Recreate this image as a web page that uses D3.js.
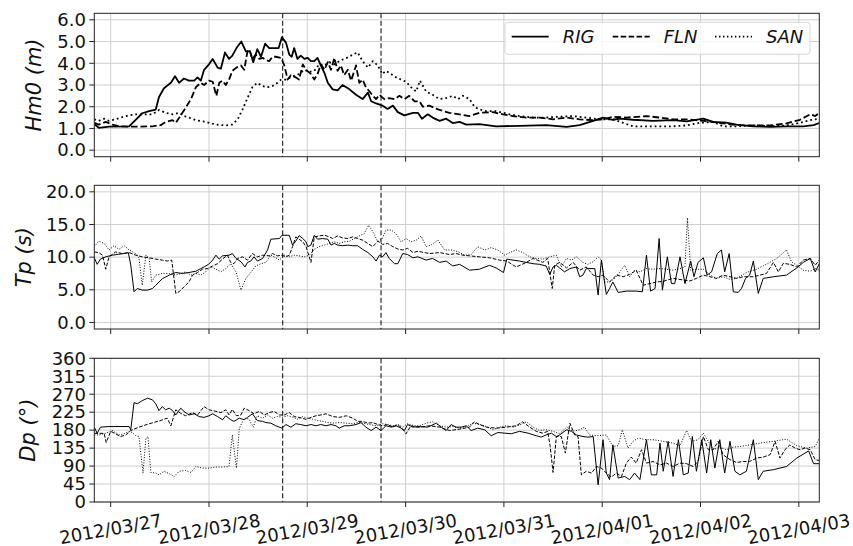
<!DOCTYPE html>
<html><head><meta charset="utf-8">
<script src="https://cdn.jsdelivr.net/npm/d3@7"></script>
<style>
body{margin:0;background:#fff}
svg{display:block}
text{font-family:"DejaVu Sans",sans-serif;fill:#111}
</style>
</head><body>
<svg id="chart" width="853" height="546"></svg>
<script>
// time axis: hours since 2012-03-26 20:00 UTC
const startUTC = Date.UTC(2012, 2, 26, 20, 0);
const endHours = 177;
const eventHours = [46, 70];
const stations = ["RIG", "FLN", "SAN"];
const hm0Ticks = [0, 1, 2, 3, 4, 5, 6];
const tpTicks = [0, 5, 10, 15, 20];
const dpTicks = [0, 45, 90, 135, 180, 225, 270, 315, 360];

const hm0RIG = [[0,1.2],[1.1,1.03],[3.6,1.08],[8.5,1.1],[10.1,1.4],[11.7,1.7],[13.4,1.8],[15,1.87],[15.8,2.45],[17,2.85],[18.7,3.1],[19.7,3.4],[20.7,3.1],[21.9,3.3],[23.1,3.2],[24.4,3.2],[25.2,3.35],[26,3.2],[26.8,3.7],[28,3.95],[28.9,4.2],[30.1,3.8],[30.9,3.75],[31.9,4.5],[32.9,4.2],[33.7,4.35],[34.7,4.7],[35.9,5.0],[37,4.55],[38,4.55],[38.8,4.05],[39.8,4.65],[40.7,4.3],[41.7,4.9],[42.7,4.7],[43.9,4.7],[45,4.7],[45.8,5.2],[46.8,4.95],[47.6,4.4],[48.2,4.3],[48.8,4.7],[49.6,4.2],[50.4,4.35],[51.3,4.2],[52.1,4.25],[52.9,4.1],[53.7,4.1],[54.5,4.25],[55.3,3.9],[56.2,3.55],[57,3.1],[58.2,2.8],[59.4,2.75],[60.6,3.0],[62.3,2.8],[63.9,2.55],[65.5,2.35],[66.8,2.65],[67.6,2.25],[68.8,2.15],[70.4,2.05],[71.6,1.9],[72.9,2.05],[74.1,1.75],[75.7,1.6],[77.8,1.72],[79,1.72],[80,1.45],[81.4,1.65],[82.6,1.5],[84.3,1.35],[85.9,1.45],[87.5,1.25],[89.2,1.3],[90.8,1.18],[94,1.2],[98.1,1.1],[103.8,1.12],[110.3,1.15],[115.3,1.07],[118.5,1.15],[121.8,1.35],[124.2,1.5],[126.6,1.4],[128.3,1.45],[131.5,1.4],[136.4,1.35],[141.3,1.38],[144.6,1.33],[148.7,1.45],[151.1,1.3],[154.3,1.27],[156.8,1.18],[160.9,1.1],[165,1.07],[169,1.1],[173.1,1.1],[175.6,1.15],[177,1.25]];
const hm0FLN = [[0,1.26],[1.1,1.18],[2.8,1.3],[4.4,1.18],[6,1.1],[8.5,1.08],[10.9,1.08],[14.2,1.1],[16.2,1.15],[17.4,1.3],[19.1,1.38],[19.9,1.26],[21.1,1.6],[22.3,1.95],[23.6,2.35],[24.8,2.9],[26,3.1],[26.8,3.0],[28,3.2],[28.9,3.15],[29.8,2.5],[30.5,3.1],[31.3,3.2],[32.1,3.0],[32.9,3.25],[33.7,3.65],[34.7,3.8],[35.8,3.9],[36.6,3.7],[37.4,4.55],[37.8,4.65],[38.6,4.2],[39.4,4.4],[40.3,4.2],[41.1,4.25],[41.9,4.15],[42.7,4.1],[43.5,4.3],[44.3,4.3],[45.6,4.25],[46.4,3.9],[47.2,3.25],[48,3.45],[49.2,3.35],[50,3.25],[50.9,3.95],[51.7,3.7],[52.9,3.5],[53.7,3.25],[54.5,3.5],[55.3,3.95],[56.2,3.7],[57,4.05],[57.8,3.7],[58.6,4.25],[59.4,3.65],[60.2,3.9],[61,3.45],[61.9,3.7],[62.7,3.2],[63.9,3.9],[64.7,3.1],[65.5,3.25],[66.3,2.9],[67.2,2.7],[68,2.5],[68.8,2.35],[69.6,2.55],[70.8,2.35],[72,2.4],[73.3,2.35],[74.5,2.5],[75.7,2.35],[76.9,2.5],[78.2,2.25],[79.4,2.25],[80.2,2.0],[81.8,2.05],[84.3,1.85],[86.7,1.72],[89.2,1.65],[91.6,1.57],[94,1.72],[97.3,1.75],[99.8,1.65],[102.2,1.57],[105.5,1.5],[108.7,1.5],[112,1.42],[115.3,1.5],[118.5,1.42],[121.8,1.38],[124.2,1.42],[126.6,1.54],[129.9,1.5],[134.8,1.57],[138.1,1.5],[141.3,1.42],[144.6,1.42],[148.7,1.35],[152.7,1.26],[156.8,1.15],[160.9,1.14],[165,1.14],[169,1.23],[172.3,1.4],[174.8,1.65],[176,1.57],[177,1.72]];
const hm0SAN = [[0,1.42],[1.1,1.35],[2.4,1.45],[3.6,1.35],[5.2,1.42],[7.7,1.57],[10.1,1.65],[12.6,1.65],[14.2,1.65],[15.8,1.85],[17.4,1.72],[19.1,1.65],[20.7,1.72],[21.9,1.57],[23.1,1.5],[24.8,1.38],[27.2,1.3],[29.7,1.18],[32.1,1.14],[33.7,1.18],[35,1.42],[36.2,1.88],[37.4,2.4],[38.6,2.9],[39.8,3.1],[41.1,2.95],[42.3,2.9],[43.5,2.95],[44.7,3.1],[45.6,3.25],[46.8,3.25],[48.4,3.4],[50,3.5],[51.3,3.7],[52.5,3.6],[53.7,3.65],[54.9,3.95],[56.2,3.9],[57.4,4.05],[58.6,3.95],[59.8,4.1],[61,4.2],[62.3,4.3],[63.1,4.4],[64.3,4.5],[65.5,4.1],[66.8,3.8],[68,4.1],[69.2,3.9],[70.3,3.5],[71.2,3.65],[72.5,3.5],[73.7,3.35],[74.9,3.25],[76.1,3.15],[77.3,2.9],[78.6,2.7],[79.5,3.2],[80.4,2.9],[81,2.7],[82.6,2.55],[84.3,2.35],[85.9,2.4],[87.5,2.5],[88.8,2.35],[90,2.5],[91.6,2.35],[92.8,2.0],[94,1.88],[95.7,1.8],[98.1,1.8],[99.8,1.72],[101.4,1.65],[103.8,1.57],[107.1,1.5],[110.3,1.5],[113.6,1.54],[116.9,1.57],[120.1,1.5],[123.4,1.42],[126.6,1.42],[129.1,1.26],[131.5,1.1],[136.4,1.1],[141.3,1.1],[144.6,1.14],[147.9,1.26],[151.1,1.3],[153.5,1.1],[156.8,1.1],[160.9,1.14],[165,1.1],[169,1.14],[172.3,1.26],[174.8,1.38],[177,1.45]];

const tpRIG = [[0,9.9],[0.7,8.9],[1.5,9.7],[2.8,10.05],[4.4,10.3],[6,10.45],[7.3,10.55],[8.3,10.7],[8.9,8.8],[9.7,4.7],[10.5,5.2],[11.7,4.95],[13,4.95],[14.2,5.2],[15,5.7],[16.6,6.7],[18.3,7.25],[19.9,7.65],[21.5,7.5],[23.1,7.65],[24.8,7.85],[26,8.25],[26.8,8.5],[27.9,8.9],[28.9,9.55],[29.7,10.3],[30.5,9.7],[31.3,10.2],[32.9,10.3],[33.7,10.55],[34.6,9.8],[35.8,9.3],[36.8,8.5],[37.4,9.2],[38.2,9.4],[39,10.05],[39.8,9.4],[41.1,9.8],[42.3,11.1],[43.1,12.75],[45.2,12.85],[45.8,13.35],[47.6,13.35],[48.4,11.85],[49.2,12.45],[50,13.3],[50.9,12.85],[51.7,12.35],[52.1,11.6],[52.9,11.85],[53.7,13.35],[54.5,12.75],[55.7,12.85],[57,12.75],[57.8,11.85],[58.6,12.1],[59.4,11.85],[60.6,11.75],[61.9,11.85],[63.1,11.75],[64.3,11.75],[65.5,11.2],[66.8,10.7],[68,10.05],[68.8,9.4],[69.6,10.3],[70.4,10.05],[71.2,10.7],[72,9.8],[73.3,9.0],[74.1,9.0],[75.3,10.55],[76.5,10.4],[77.8,9.9],[79,10.05],[81,9.55],[82.6,9.8],[84.3,9.2],[85.9,9.4],[87.5,8.65],[89.2,8.9],[91.6,8.0],[94,8.15],[96.5,8.75],[98.1,8.35],[99.9,7.65],[100.7,9.7],[103.8,9.4],[107.1,9.0],[108.7,8.9],[110.3,8.65],[111.2,7.35],[112,8.5],[112.8,8.75],[113.6,8.35],[114.8,7.75],[116.1,8.25],[117.7,8.5],[118.5,7.0],[119.3,7.25],[120.1,8.25],[122.2,8.25],[123,4.2],[123.8,9.55],[125,4.3],[125.8,5.2],[126.6,6.2],[127.9,4.6],[129.9,4.8],[132.3,4.8],[133.8,4.7],[134.8,10.3],[135.8,4.8],[136.9,5.2],[137.9,12.85],[138.7,4.95],[139.9,10.05],[140.9,5.95],[141.7,5.95],[143,10.05],[144.2,5.95],[145.6,9.4],[146.4,7.0],[147.4,9.2],[148.7,9.9],[149.6,7.25],[150.7,7.75],[152.1,10.55],[153.1,11.1],[153.9,7.75],[155,10.55],[156,4.7],[157.2,4.6],[158,5.2],[159,6.75],[160,7.25],[160.9,9.4],[162.1,4.45],[163.3,6.75],[165.8,7.0],[169,7.25],[171.5,8.35],[173.1,9.2],[174.8,9.8],[176,7.75],[177,9.0]];
const tpFLN = [[0,10.8],[1.1,10.7],[2,10.3],[2.8,8.15],[3.6,10.05],[5.2,10.8],[6.8,10.55],[8.5,10.7],[10.1,10.3],[11.7,10.05],[13.4,9.9],[15,9.7],[16.6,9.55],[17.8,9.4],[18.9,9.55],[19.2,8.0],[19.9,4.45],[20.7,4.7],[21.9,5.45],[23.1,6.2],[24,7.25],[25.2,7.65],[26.4,8.15],[27.6,8.25],[28.9,8.65],[30.1,9.0],[31.3,9.7],[32.5,10.3],[33.3,9.2],[34.1,9.0],[35,9.8],[36.2,10.05],[37.4,9.55],[38.6,10.55],[39.8,10.05],[41.1,10.3],[42.7,10.2],[43.5,10.55],[44.7,10.2],[45.8,10.3],[46.8,10.05],[47.6,10.3],[48.4,11.6],[49.2,13.1],[50,12.75],[50.9,12.35],[51.7,11.6],[52.9,9.2],[53.7,13.1],[54.9,13.25],[56.2,13.35],[57.4,13.1],[58.2,12.85],[59.4,13.25],[60.6,12.95],[61.9,12.85],[63.1,13.1],[64.3,12.85],[65.5,12.6],[66.8,12.1],[68,11.6],[69.2,12.45],[70.4,11.95],[71.6,12.1],[72.9,11.6],[74.1,11.25],[75.3,11.1],[76.5,11.35],[77.8,10.7],[79,10.9],[81.8,10.55],[84.3,10.7],[86.7,10.4],[88.3,10.55],[90,10.3],[91.6,10.2],[94,10.05],[96.5,9.9],[98.9,9.55],[100.7,9.4],[103,8.5],[105.5,9.2],[107.1,9.8],[109.5,9.2],[110.7,9.8],[111.3,7.25],[111.8,5.2],[112.4,8.75],[113.6,9.2],[115.3,8.35],[116.9,9.2],[118.5,8.0],[120.1,8.5],[121.8,7.25],[123,7.0],[124.2,7.25],[125.8,6.2],[127.5,7.25],[129.1,7.0],[130.7,7.35],[132.3,8.0],[134,5.7],[135.6,5.95],[137.3,6.2],[138.9,6.3],[141.3,6.75],[143.8,6.5],[145.4,6.35],[147,6.75],[148.7,7.25],[150.3,7.0],[151.9,6.75],[153.5,7.25],[155.2,7.0],[156.8,6.75],[158.4,7.0],[160.9,7.0],[162.5,7.25],[164.1,7.5],[165.8,9.2],[167,7.75],[168.2,9.05],[169.8,8.9],[171.5,8.5],[173.1,9.55],[174.8,9.8],[176,8.75],[177,9.55]];
const tpSAN = [[0,11.6],[1.1,12.45],[2.4,12.1],[3.6,11.1],[4.8,11.75],[6,11.2],[7.3,11.75],[8.5,11.1],[10.1,10.55],[10.9,9.9],[11.7,5.7],[12.6,10.3],[13.4,9.8],[14,6.2],[15,7.25],[16.6,7.5],[18.3,7.5],[19.9,7.25],[21.1,7.5],[22.3,7.75],[23.6,7.25],[24.8,7.5],[26,7.25],[27.2,7.75],[28.4,8.5],[29.7,8.15],[30.9,7.75],[32.1,8.25],[33.3,9.0],[34.6,7.75],[35.8,4.95],[37,6.75],[38.2,7.65],[39.4,8.65],[40.7,9.0],[41.9,9.2],[43.1,10.3],[43.9,10.05],[45.2,9.55],[46.4,10.3],[47.6,10.05],[48.8,10.3],[50,10.2],[51.3,10.05],[52.5,10.3],[53.7,11.2],[54.9,11.6],[56.2,11.85],[57.4,12.1],[58.6,12.35],[59.8,12.1],[61,12.35],[62.3,12.45],[63.5,12.85],[64.7,13.25],[65.9,13.6],[67,14.9],[68,13.9],[69.2,12.35],[70.3,12.85],[71.2,14.15],[72.5,14.15],[73.7,13.6],[74.9,12.35],[76.1,12.85],[77.3,12.35],[78.6,12.6],[79.8,13.25],[81,11.6],[82.2,11.85],[83.9,12.6],[85.5,11.1],[87.1,11.1],[88.8,10.85],[90.4,10.3],[92,10.4],[93.6,11.6],[95.3,11.1],[96.9,11.45],[98.5,11.1],[100.2,10.3],[101.8,10.8],[103,11.1],[104.6,10.7],[106.3,10.05],[107.9,9.8],[109.5,9.7],[111.2,10.05],[112.8,10.3],[114,8.5],[115.3,9.8],[116.5,9.55],[117.7,10.05],[119.3,9.2],[120.5,8.9],[121.8,9.3],[123,10.05],[123.8,9.55],[124.6,6.2],[125.8,6.2],[127,6.7],[128.3,7.75],[129.5,8.75],[130.7,7.0],[131.9,8.0],[133.2,7.75],[134.8,8.25],[136.4,8.15],[138.1,8.25],[139.7,8.15],[141.3,8.0],[143,8.25],[144.2,8.5],[144.8,16.0],[145.6,8.0],[147,8.15],[148.7,8.15],[150.3,7.25],[151.9,6.75],[153.5,7.0],[155.2,6.6],[156.8,6.75],[159.2,7.65],[161.7,8.15],[164.1,8.9],[166.6,9.8],[169,11.1],[170.2,9.3],[171.5,8.75],[173.1,8.0],[174.8,7.85],[176,8.25],[177,8.0]];

const dpRIG = [[0,187.5],[0.7,172],[1.5,187.5],[3.6,189],[8.5,189],[8.9,181],[9.7,249],[10.5,246],[11.7,254],[13,260],[14.2,256],[15,246],[15.8,229],[16.6,239],[17.4,231],[18.3,235],[19.1,229],[19.9,218],[21.1,235],[21.9,227],[23.1,218],[24.4,221],[25.6,214],[26.8,212],[28,216],[28.9,221],[30.1,214],[31.3,206],[32.1,216],[33.3,206],[34.1,202],[35.4,210],[36.6,206],[37.4,212],[38.6,221],[39.8,204],[41.1,202],[41.9,199],[43.1,197.5],[44.3,191],[45.8,185],[46.8,194],[48,187.5],[49.2,196],[50.4,194],[51.7,191],[52.9,194],[54.1,191],[55.3,194],[56.6,191],[57.8,194],[59,191],[59.8,185],[61,191],[62.3,191],[63.9,194],[65.1,199],[66.3,187.5],[67.6,179],[68.8,187.5],[70,179],[71.2,191],[72.5,187.5],[73.7,191],[74.9,185],[75.7,179],[76.5,194],[77.8,187.5],[79,189],[81.4,187.5],[83.5,197.5],[84.7,187.5],[85.9,179],[87.1,194],[88.3,187.5],[89.6,187.5],[90.8,191],[92,179],[93.6,185],[95.3,181],[96.9,166],[98.5,174],[100.2,172.5],[101.8,171],[103.8,177],[105.9,172.5],[107.9,166],[109.1,162.5],[110.3,168],[111.6,172.5],[112.8,164],[113.6,168],[115.3,181],[116.5,177],[117.7,168],[119.3,164],[120.5,162.5],[121.8,164],[123,43],[124.2,156],[125,72.5],[125.8,56],[126.6,143],[127.9,60],[129.5,64],[130.7,56],[131.9,72.5],[133.2,56],[134.8,156],[136,68],[137.3,68],[138.1,147.5],[138.9,77],[140.1,152],[141.3,64],[142.6,156],[143.8,68],[145,72.5],[146,164],[147,77],[148.3,156],[149.5,72.5],[150.5,156],[151.5,85],[152.7,156],[153.9,72.5],[155.2,152],[156.4,77],[157.6,68],[159.2,77],[160.9,156],[162.1,56],[163.3,77],[165.8,81],[169,89],[171.5,110],[174.4,128],[175.6,96],[177,96]];
const dpFLN = [[0,172],[1.1,172],[2.4,172],[2.9,149],[4,177],[5.2,171],[6.4,164],[7.7,168],[8.9,179],[10.9,187.5],[13.4,196],[15.8,203],[17.8,210],[18.7,191],[19.9,231],[21.1,222],[22.3,216],[24,224],[25.2,218],[26.8,239],[28,231],[29.7,227],[30.9,224],[32.1,231],[32.9,218],[33.7,232],[34.7,216],[35.8,218],[36.6,235],[37.8,229],[39,221],[40.3,227],[41.5,218],[42.7,224],[43.9,227],[45.2,218],[46.4,218],[47.6,224],[48.8,214],[50,212],[51.7,207],[52.9,212],[54.1,216],[55.3,218],[56.6,221],[58.2,214],[59.8,212],[61.5,216],[63.1,210],[64.3,202],[65.5,202],[66.8,197.5],[68,199],[69.2,194],[70.4,191],[71.6,194],[72.9,187.5],[74.1,194],[75.3,182.5],[76.1,171],[77.3,191],[78.6,187.5],[79.4,187.5],[81.8,191],[84.3,187.5],[86.7,179],[89.2,182.5],[91.6,187.5],[92.8,201],[94,194],[95.7,187.5],[98.1,185],[100.6,187.5],[103,191],[104.6,201],[106.3,187.5],[107.9,177],[109.5,172.5],[110.7,177],[111.3,139],[112,74],[112.8,164],[114,164],[115,122.5],[116.1,197.5],[117.3,168],[118.1,164],[118.9,68],[120.1,77],[121.4,72.5],[122.6,89],[123.8,85],[125,72.5],[126.2,62.5],[127.5,72.5],[128.7,64],[129.9,97.5],[131.1,112.5],[132.3,97.5],[133.6,131],[134.8,97.5],[136.4,101.5],[138.1,93],[139.7,97.5],[141.3,89],[143,97.5],[144.6,96],[146.2,89],[147.4,101.5],[148.7,164],[149.9,131],[151.1,131],[152.3,152],[153.5,118.5],[155.2,106],[156.8,99],[158.4,101.5],[160,101.5],[161.7,110],[163.3,112.5],[165,118.5],[166.2,152],[167.4,110],[168.6,131],[169.8,143],[171.1,135],[172.3,131],[173.5,135],[174.8,131],[176,106],[177,104]];
const dpSAN = [[0,168],[1.1,168],[2.8,172.5],[4.4,179],[6,168],[7.3,171],[8.5,177],[9.3,174],[10.1,166],[10.9,164],[11.9,72.5],[12.6,160],[13.1,164],[13.8,74],[15,72.5],[15.8,68],[17,77],[18.3,71],[19.5,64],[20.7,77],[22.3,79],[23.6,74],[24.8,89],[26.4,85],[28,85],[29.7,87.5],[31.3,87.5],[32.9,89],[33.7,168],[34.7,85],[35.4,185],[36.6,210],[37.8,207.5],[38.8,187.5],[39.8,216],[41.1,210],[42.3,218],[43.5,210],[44.7,214],[46,212.5],[47.2,216],[48.4,212.5],[49.6,207.5],[50.9,214],[52.1,210],[53.3,207.5],[54.5,204],[55.7,202],[57,199],[58.2,197.5],[59.8,199],[61.5,197.5],[63.1,196],[64.3,199],[65.5,197.5],[67.2,194],[68.8,191],[70.4,196],[71.6,194],[72.9,191],[74.1,194],[75.3,187.5],[76.5,196],[78.2,191],[79.4,191],[81,197.5],[82.6,201],[84.3,191],[85.9,187.5],[87.5,189],[89.2,185],[90.8,189],[92.4,197.5],[94.5,194],[95.7,189],[97.3,181],[98.9,187.5],[100.6,191],[102.2,187.5],[103.8,193],[105.5,201],[107.1,187.5],[108.7,179],[110.3,181],[112,177],[113.6,171],[115.3,187.5],[116.9,177],[118.5,181],[119.7,187.5],[120.9,168],[122.6,166],[125,168],[126.6,139],[127.9,141],[128.9,181],[130.3,135],[131.5,152],[132.8,160],[134.8,156],[136.4,156],[138.9,152],[141.3,147.5],[143,141],[144.6,179],[145.8,152],[147.4,156],[148.7,172.5],[149.9,152],[151.1,131],[152.7,137.5],[154.3,131],[156,137.5],[157.6,139],[160,143],[162.5,147.5],[165.8,152],[169,157.5],[171.5,141],[173.9,135],[176,139],[177,160]];

// ---------- drawing ----------
const toDate = h => new Date(startUTC + h * 3600e3);
const svg = d3.select("#chart");
const L = 94.3, R = 819.3;
const x = d3.scaleUtc().domain([toDate(0), toDate(endHours)]).range([L, R]);

const panels = [
  {series:[hm0RIG, hm0FLN, hm0SAN], ticks:hm0Ticks, domain:[-0.3, 6.3], top:13.3, bottom:156.7, fmt:d3.format(".1f"), label:"Hm0 (m)", lw:1.8, labelX:41},
  {series:[tpRIG, tpFLN, tpSAN], ticks:tpTicks, domain:[-1, 21], top:185.3, bottom:329, fmt:d3.format(".1f"), label:"Tp (s)", lw:1, labelX:31},
  {series:[dpRIG, dpFLN, dpSAN], ticks:dpTicks, domain:[0, 360], top:358.3, bottom:502, fmt:d3.format("d"), label:"Dp (°)", lw:1, labelX:35}
];
const dashFor = (i, lw) => i === 0 ? null : i === 1 ? `${3.7*lw},${1.6*lw}` : `${1*lw},${1.65*lw}`;
const dayTicks = x.ticks(d3.utcDay.every(1));
const dayFmt = d3.utcFormat("%Y/%m/%d");

panels.forEach((p, pi) => {
  const y = d3.scaleLinear().domain(p.domain).range([p.bottom, p.top]);
  const g = svg.append("g");
  const clipId = "clip" + pi;
  svg.append("clipPath").attr("id", clipId).append("rect")
    .attr("x", L).attr("y", p.top).attr("width", R - L).attr("height", p.bottom - p.top);

  // grid
  g.selectAll(".gy").data(p.ticks).join("line")
    .attr("x1", L).attr("x2", R).attr("y1", d => y(d)).attr("y2", d => y(d))
    .attr("stroke", "#cfcfcf").attr("stroke-width", 1);
  g.selectAll(".gx").data(dayTicks).join("line")
    .attr("x1", d => x(d)).attr("x2", d => x(d)).attr("y1", p.top).attr("y2", p.bottom)
    .attr("stroke", "#cfcfcf").attr("stroke-width", 1);

  // series
  const line = d3.line().x(d => x(toDate(d[0]))).y(d => y(d[1]));
  const sg = g.append("g").attr("clip-path", `url(#${clipId})`);
  p.series.forEach((s, i) => {
    sg.append("path").datum(s).attr("d", line)
      .attr("fill", "none").attr("stroke", "#000")
      .attr("stroke-width", p.lw).attr("stroke-linejoin", "round")
      .attr("stroke-dasharray", dashFor(i, p.lw));
  });

  // event markers
  g.selectAll(".ev").data(eventHours).join("line")
    .attr("x1", d => x(toDate(d))).attr("x2", d => x(toDate(d)))
    .attr("y1", p.top).attr("y2", p.bottom)
    .attr("stroke", "#000").attr("stroke-width", 1).attr("stroke-dasharray", "5,2.5");

  // frame
  g.append("rect").attr("x", L).attr("y", p.top).attr("width", R - L).attr("height", p.bottom - p.top)
    .attr("fill", "none").attr("stroke", "#222").attr("stroke-width", 1);

  // y ticks
  g.selectAll(".yt").data(p.ticks).join("line")
    .attr("x1", L - 5).attr("x2", L).attr("y1", d => y(d)).attr("y2", d => y(d))
    .attr("stroke", "#222").attr("stroke-width", 1);
  g.selectAll(".yl").data(p.ticks).join("text")
    .attr("x", 86).attr("y", d => y(d)).attr("dy", "0.35em")
    .attr("text-anchor", "end").attr("font-size", 18).text(d => p.fmt(d));

  // x ticks
  g.selectAll(".xt").data(dayTicks).join("line")
    .attr("x1", d => x(d)).attr("x2", d => x(d)).attr("y1", p.bottom).attr("y2", p.bottom + 5)
    .attr("stroke", "#222").attr("stroke-width", 1);

  // y label
  g.append("text")
    .attr("transform", `translate(${p.labelX},${(p.top + p.bottom) / 2}) rotate(-90)`)
    .attr("text-anchor", "middle").attr("font-size", 21).attr("font-style", "italic")
    .text(p.label);

  if (pi === panels.length - 1) {
    g.selectAll(".xl").data(dayTicks).join("text")
      .attr("transform", d => `translate(${x(d)},529) rotate(-10)`)
      .attr("dy", "0.35em").attr("text-anchor", "middle").attr("font-size", 18)
      .text(d => dayFmt(d));
  }
});

// legend
const lg = svg.append("g");
lg.append("rect").attr("x", 505).attr("y", 22.3).attr("width", 305).attr("height", 32).attr("rx", 3)
  .attr("fill", "white").attr("fill-opacity", 0.85).attr("stroke", "#d6d6d6").attr("stroke-width", 1);
const legendX = [511.7, 612.7, 715];
stations.forEach((name, i) => {
  lg.append("line").attr("x1", legendX[i]).attr("x2", legendX[i] + 37).attr("y1", 36.7).attr("y2", 36.7)
    .attr("stroke", "#000").attr("stroke-width", 1.8).attr("stroke-dasharray", dashFor(i, 1.5));
  lg.append("text").attr("x", legendX[i] + 51).attr("y", 36.7).attr("dy", "0.35em")
    .attr("font-size", 18).attr("font-style", "italic").text(name);
});
</script>
</body></html>
